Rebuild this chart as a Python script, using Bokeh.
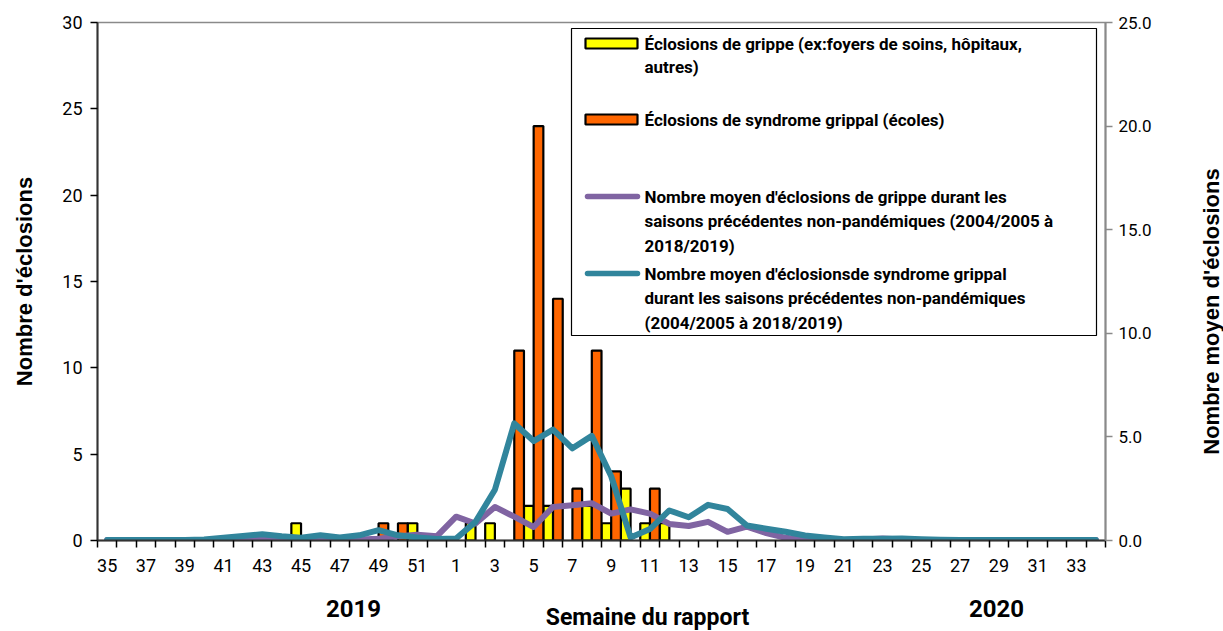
import math
from bokeh.plotting import figure
from bokeh.layouts import column, row
from bokeh.models import Range1d, LinearAxis, FixedTicker, PrintfTickFormatter
from bokeh.core.properties import value
from bokeh.embed import file_html
from bokeh.resources import INLINE

# ---------------- data ----------------
weeks = list(range(35, 53)) + list(range(1, 35))
label_weeks = [35, 37, 39, 41, 43, 45, 47, 49, 51, 1, 3, 5, 7, 9, 11, 13, 15, 17, 19,
               21, 23, 25, 27, 29, 31, 33]

# Éclosions de grippe (yellow bars)
grippe = [0, 0, 0, 0, 0, 0, 0, 0, 0, 0, 1, 0, 0, 0, 0, 0, 1, 0,
          0, 1, 1, 0, 2, 2, 0, 2, 1, 3, 1, 1,
          0, 0, 0, 0, 0, 0, 0, 0, 0, 0, 0, 0, 0, 0, 0, 0, 0, 0, 0, 0, 0, 0]
# Éclosions de syndrome grippal (orange bars)
sg = [0, 0, 0, 0, 0, 0, 0, 0, 0, 0, 0, 0, 0, 0, 1, 1, 0, 0,
      0, 0, 0, 11, 24, 14, 3, 11, 4, 0, 3, 0,
      0, 0, 0, 0, 0, 0, 0, 0, 0, 0, 0, 0, 0, 0, 0, 0, 0, 0, 0, 0, 0, 0]
# Nombre moyen d'éclosions de grippe (purple line, right axis)
avg_grippe = [0.02, 0.02, 0.02, 0.02, 0.02, 0.02, 0.02, 0.02, 0.08, 0.03, 0.02, 0.02, 0.03,
              0.05, 0.08, 0.20, 0.28, 0.20,
              1.15, 0.82, 1.62, 1.15, 0.65, 1.62, 1.70, 1.80, 1.30, 1.50, 1.30, 0.80,
              0.70, 0.90, 0.42, 0.67, 0.36, 0.13, 0.04, 0.05, 0.02, 0.05, 0.10, 0.05, 0.03,
              0.02, 0.02, 0.02, 0.02, 0.02, 0.02, 0.02, 0.02, 0.02]
# Nombre moyen d'éclosions de syndrome grippal (teal line, right axis)
avg_sg = [0.02, 0.02, 0.02, 0.02, 0.03, 0.05, 0.13, 0.22, 0.30, 0.20, 0.13, 0.25, 0.15,
          0.25, 0.50, 0.25, 0.15, 0.07,
          0.10, 0.90, 2.45, 5.65, 4.80, 5.35, 4.45, 5.05, 3.10, 0.15, 0.55, 1.45,
          1.12, 1.72, 1.52, 0.72, 0.57, 0.42, 0.24, 0.14, 0.06, 0.08, 0.08, 0.10, 0.06,
          0.04, 0.02, 0.02, 0.02, 0.02, 0.02, 0.02, 0.02, 0.02]

legend_labels = [
    ["Éclosions de grippe (ex:foyers de soins, hôpitaux,", "autres)"],
    ["Éclosions de syndrome grippal (écoles)"],
    ["Nombre moyen d'éclosions de grippe durant les",
     "saisons précédentes non-pandémiques (2004/2005 à", "2018/2019)"],
    ["Nombre moyen d'éclosionsde syndrome grippal",
     "durant les saisons précédentes non-pandémiques", "(2004/2005 à 2018/2019)"],
]
year_labels = ["2019", "2020"]
x_title = "Semaine du rapport"
y_title_left = "Nombre d'éclosions"
y_title_right = "Nombre moyen d'éclosions"

YELLOW = "#FFFF00"
ORANGE = "#FF6600"
PURPLE = "#8064A2"
TEAL = "#31859C"
NARROW = "Roboto"
WIDE = "Liberation Sans"

n = len(weeks)
xs = [i + 0.5 for i in range(n)]

W_MAIN = 1193
W_SIDE = 30
H1 = 590
H2 = 41

p = figure(width=W_MAIN, height=H1, output_backend="svg", toolbar_location=None,
           x_range=Range1d(0, n), y_range=Range1d(0, 30),
           min_border_left=97, min_border_right=W_MAIN - 1105, min_border_top=22, min_border_bottom=50)
p.extra_y_ranges = {"right": Range1d(0, 25)}
p.xgrid.visible = False
p.ygrid.visible = False
p.outline_line_color = "#8a8a8a"
p.outline_line_width = 1.5

# bars
yb = [(i, v) for i, v in enumerate(grippe) if v > 0]
ob = [(i, v) for i, v in enumerate(sg) if v > 0]
p.quad(left=[i for i, _ in yb], right=[i + 0.5 for i, _ in yb], bottom=0, top=[v for _, v in yb],
       fill_color=YELLOW, line_color="black", line_width=2.2)
p.quad(left=[i + 0.5 for i, _ in ob], right=[i + 1 for i, _ in ob], bottom=0, top=[v for _, v in ob],
       fill_color=ORANGE, line_color="black", line_width=2.2)

# lines
p.line(xs, avg_grippe, y_range_name="right", line_color=PURPLE, line_width=6, line_join="round", line_cap="round")
p.line(xs, avg_sg, y_range_name="right", line_color=TEAL, line_width=6, line_join="round", line_cap="round")

# x axis
xa = p.xaxis[0]
xa.ticker = FixedTicker(ticks=[xs[weeks.index(w)] for w in label_weeks], minor_ticks=list(range(n + 1)))
xa.major_label_overrides = {xs[weeks.index(w)]: str(w) for w in label_weeks}
xa.major_tick_out = 0
xa.major_tick_in = 0
xa.minor_tick_out = 7
xa.minor_tick_in = 0
xa.minor_tick_line_color = "black"
xa.minor_tick_line_width = 1.5
xa.axis_line_color = "#333333"
xa.axis_line_width = 2
xa.major_label_standoff = 11
xa.major_label_text_font = NARROW
xa.major_label_text_font_size = "18px"
xa.major_label_text_color = "black"

# left axis
ya = p.yaxis[0]
ya.ticker = FixedTicker(ticks=[0, 5, 10, 15, 20, 25, 30])
ya.minor_tick_out = 0
ya.minor_tick_in = 0
ya.major_tick_out = 7
ya.major_tick_in = 0
ya.major_tick_line_width = 1.5
ya.axis_line_color = "#333333"
ya.axis_line_width = 2
ya.major_label_standoff = 8
ya.major_label_text_font = NARROW
ya.major_label_text_font_size = "18px"
ya.major_label_text_color = "black"
ya.axis_label = y_title_left
ya.axis_label_text_font = WIDE
ya.axis_label_text_font_style = "bold"
ya.axis_label_text_font_size = "22px"
ya.axis_label_text_color = "black"
ya.axis_label_standoff = 22

# right axis
ra = LinearAxis(y_range_name="right", ticker=FixedTicker(ticks=[0, 5, 10, 15, 20, 25]),
                formatter=PrintfTickFormatter(format="%.1f"))
ra.minor_tick_out = 0
ra.minor_tick_in = 0
ra.major_tick_out = 7
ra.major_tick_in = 0
ra.major_tick_line_color = "#8a8a8a"
ra.major_tick_line_width = 1.5
ra.axis_line_color = "#8a8a8a"
ra.axis_line_width = 2
ra.major_label_standoff = 6
ra.major_label_text_font = NARROW
ra.major_label_text_font_size = "17px"
ra.major_label_text_color = "black"
p.add_layout(ra, "right")

# pixel helpers (frame: x 97..1105, y 22..540 in page coordinates)
XS = (1105 - 97) / n
YS = (540 - 22) / 30.0


def px(x):
    return (x - 97) / XS


def py(y):
    return (540 - y) / YS


# legend
p.quad(left=px(571), right=px(1096), top=py(28), bottom=py(335), fill_color="white",
       line_color="black", line_width=1.2)
p.quad(left=px(585), right=px(637), top=py(38), bottom=py(48), fill_color=YELLOW, line_color="black", line_width=2.2)
p.quad(left=px(585), right=px(637), top=py(114), bottom=py(124), fill_color=ORANGE, line_color="black", line_width=2.2)
p.line([px(587), px(637)], [py(196), py(196)], line_color=PURPLE, line_width=5.5, line_cap="round")
p.line([px(587), px(637)], [py(273), py(273)], line_color=TEAL, line_width=5.5, line_cap="round")

line_y = [[43, 66], [119], [196, 220, 245], [273, 297, 322]]
tx, ty, tt = [], [], []
for labels, ys_ in zip(legend_labels, line_y):
    for t, yy in zip(labels, ys_):
        tx.append(px(644))
        ty.append(py(yy))
        tt.append(t)
p.text(x=tx, y=ty, text=tt, text_font=value(NARROW), text_font_style="bold",
       text_font_size="17px", text_baseline="middle", text_align="left", text_color="black")


def blank(width, height, xr, yr):
    f = figure(width=width, height=height, output_backend="svg", toolbar_location=None,
               x_range=Range1d(*xr), y_range=Range1d(*yr),
               min_border_left=0, min_border_right=0, min_border_top=0, min_border_bottom=0,
               x_axis_location=None, y_axis_location=None)
    f.xgrid.visible = False
    f.ygrid.visible = False
    f.outline_line_color = None
    return f


# bottom strip with year labels and x title (page y 590..631); its frame is aligned
# with the main frame horizontally (page x 97..1105)
p2 = blank(W_MAIN, H2, (97, 1105), (0, H2))
p2.text(x=[353, 996], y=[631 - 608, 631 - 608], text=year_labels, text_font=value(NARROW),
        text_font_style="bold", text_font_size="24px", text_align="center", text_baseline="middle",
        text_color="black")
p2.text(x=[647], y=[631 - 617], text=[x_title], text_font=value(NARROW),
        text_font_style="bold", text_font_size="23px", text_align="center", text_baseline="middle",
        text_color="black")

# right strip with the right axis title (page x 1193..1223)
p3 = blank(W_SIDE, H1 + H2, (0, W_SIDE), (0, H1 + H2))
p3.text(x=[1211 - W_MAIN], y=[320], text=[y_title_right], angle=math.pi / 2,
        text_font=value(WIDE), text_font_style="bold", text_font_size="22px",
        text_align="center", text_baseline="middle", text_color="black")

layout = row(column(p, p2, spacing=0), p3, spacing=0)
open("out.html", "w").write(file_html(layout, INLINE))
